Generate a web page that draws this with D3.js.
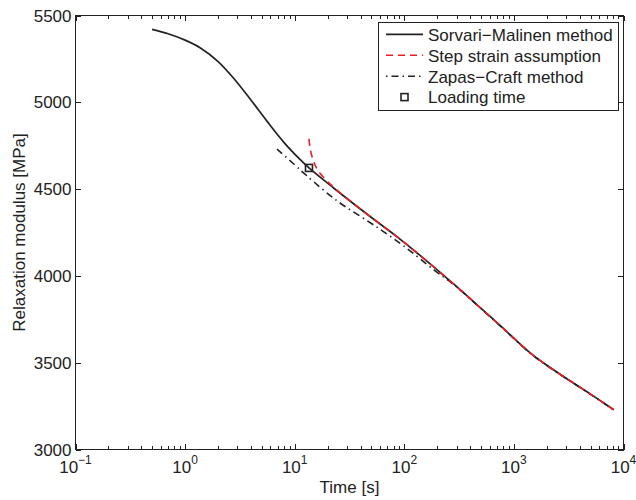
<!DOCTYPE html>
<html>
<head>
<meta charset="utf-8">
<script src="https://cdn.jsdelivr.net/npm/d3@7"></script>
<style>
  body { margin: 0; background: #fff; }
  svg { display: block; font-family: "Liberation Sans", Arial, sans-serif; }
  .tick-label, .axis-title, .legend-text { fill: #222; font-size: 17px; }
</style>
</head>
<body>
<div id="chart"></div>
<script>
// Sorvari-Malinen method (solid)
const smTime = [0.5, 0.7, 1.0, 1.38, 2.0, 2.76, 4.0, 5.6, 8.0, 11.3, 13.5, 22.8, 45.8, 86, 140, 283, 495, 755, 1416, 2000, 2850, 5000, 8150];
const smModulus = [5420, 5395, 5358, 5313, 5235, 5140, 5012, 4890, 4768, 4668, 4622, 4505, 4355, 4225, 4117, 3952, 3816, 3712, 3555, 3485, 3419, 3319, 3229];

// Step strain assumption (red dashed)
const stepTime = [13.5, 13.9, 14.9, 16.3, 21.2, 26.2, 39.8, 86, 140, 283, 495, 755, 1416, 2000, 2850, 5000, 8150];
const stepModulus = [4790, 4726, 4659, 4607, 4527, 4476, 4385, 4225, 4117, 3952, 3816, 3712, 3555, 3485, 3419, 3319, 3229];

// Zapas-Craft method (dash-dot)
const zcTime = [6.9, 10, 13, 24.4, 45.8, 65, 99, 186, 283, 495, 755, 1416, 2000, 2850, 5000, 8150];
const zcModulus = [4730, 4640, 4575, 4432, 4318, 4254, 4172, 4035, 3950, 3815, 3711, 3554, 3484, 3418, 3318, 3228];

// loading time marker
const loadTime = [13.5];
const loadModulus = [4622];

const yTicks = [3000, 3500, 4000, 4500, 5000, 5500];
const xTickExponents = [-1, 0, 1, 2, 3, 4];
const legendLabels = ['Sorvari\u2212Malinen method', 'Step strain assumption', 'Zapas\u2212Craft method', 'Loading time'];

const width = 636;
const height = 500;
const plot = { left: 75.5, right: 623.5, top: 15.5, bottom: 449.5 };
const ink = '#222';
const red = '#ee1c24';

const svg = d3.select('#chart').append('svg')
  .attr('width', width)
  .attr('height', height);

const x = d3.scaleLog().domain([0.1, 10000]).range([plot.left, plot.right]);
const y = d3.scaleLinear().domain([3000, 5500]).range([plot.bottom, plot.top]);

// minor ticks for log axis
const minorTicks = [];
xTickExponents.slice(0, -1).forEach(e => {
  for (let m = 2; m <= 9; m++) minorTicks.push(m * Math.pow(10, e));
});
const majorTicks = xTickExponents.map(e => Math.pow(10, e));

const ticks = svg.append('g').attr('stroke', ink).attr('stroke-width', 1).attr('shape-rendering', 'crispEdges');
// bottom & top x ticks (inward)
[[plot.bottom, -1], [plot.top, 1]].forEach(([yy, dir]) => {
  ticks.selectAll(null).data(majorTicks).enter().append('line')
    .attr('x1', d => Math.round(x(d)) + 0.5).attr('x2', d => Math.round(x(d)) + 0.5)
    .attr('y1', yy).attr('y2', yy + dir * 5.5);
  ticks.selectAll(null).data(minorTicks).enter().append('line')
    .attr('x1', d => Math.round(x(d)) + 0.5).attr('x2', d => Math.round(x(d)) + 0.5)
    .attr('y1', yy).attr('y2', yy + dir * 3.5);
});
// left & right y ticks (inward)
[[plot.left, 1], [plot.right, -1]].forEach(([xx, dir]) => {
  ticks.selectAll(null).data(yTicks).enter().append('line')
    .attr('x1', xx).attr('x2', xx + dir * 5.5)
    .attr('y1', d => Math.round(y(d)) + 0.5).attr('y2', d => Math.round(y(d)) + 0.5);
});

// box
svg.append('rect')
  .attr('x', plot.left).attr('y', plot.top)
  .attr('width', plot.right - plot.left).attr('height', plot.bottom - plot.top)
  .attr('fill', 'none').attr('stroke', ink).attr('stroke-width', 1)
  .attr('shape-rendering', 'crispEdges');

// y tick labels
svg.append('g').selectAll('text').data(yTicks).enter().append('text')
  .attr('class', 'tick-label')
  .attr('x', plot.left - 4)
  .attr('y', d => y(d) + 6)
  .attr('text-anchor', 'end')
  .text(d => d);

// x tick labels 10^e
const xLabels = svg.append('g').selectAll('text').data(xTickExponents).enter().append('text')
  .attr('class', 'tick-label')
  .attr('x', d => x(Math.pow(10, d)))
  .attr('y', 473)
  .attr('text-anchor', 'middle');
xLabels.append('tspan').text('10');
xLabels.append('tspan')
  .attr('dy', -9)
  .attr('font-size', '12px')
  .text(d => (d < 0 ? '\u2212' : '') + Math.abs(d));

// axis titles
svg.append('text')
  .attr('class', 'axis-title')
  .attr('x', (plot.left + plot.right) / 2)
  .attr('y', 493)
  .attr('text-anchor', 'middle')
  .text('Time [s]');

svg.append('text')
  .attr('class', 'axis-title')
  .attr('transform', `translate(25, ${(plot.top + plot.bottom) / 2}) rotate(-90)`)
  .attr('text-anchor', 'middle')
  .text('Relaxation modulus [MPa]');

// curves
const line = d3.line()
  .x(d => x(d[0]))
  .y(d => y(d[1]))
  .curve(d3.curveCatmullRom.alpha(0.5));

const zip = (a, b) => a.map((v, i) => [v, b[i]]);

const curves = svg.append('g').attr('fill', 'none');

curves.append('path')
  .datum(zip(zcTime, zcModulus))
  .attr('d', line)
  .attr('stroke', ink)
  .attr('stroke-width', 1.6)
  .attr('stroke-dasharray', '7,4,1.5,4');

curves.append('path')
  .datum(zip(smTime, smModulus))
  .attr('d', line)
  .attr('stroke', ink)
  .attr('stroke-width', 1.7);

curves.append('path')
  .datum(zip(stepTime, stepModulus))
  .attr('d', line)
  .attr('stroke', red)
  .attr('stroke-width', 1.6)
  .attr('stroke-dasharray', '7,5');

svg.append('g').selectAll('rect').data(zip(loadTime, loadModulus)).enter().append('rect')
  .attr('x', d => x(d[0]) - 3.5)
  .attr('y', d => y(d[1]) - 3.5)
  .attr('width', 7).attr('height', 7)
  .attr('fill', 'none')
  .attr('stroke', ink)
  .attr('stroke-width', 1.6);

// legend
const legend = svg.append('g');
legend.append('rect')
  .attr('x', 378.5).attr('y', 22.5)
  .attr('width', 240).attr('height', 87.5)
  .attr('fill', '#fff')
  .attr('stroke', ink)
  .attr('stroke-width', 1)
  .attr('shape-rendering', 'crispEdges');

const rowStep = 20.9;
const legendStyles = [
  { stroke: ink, dash: null },
  { stroke: red, dash: '7,5' },
  { stroke: ink, dash: '1.5,4,7,4' },
  { marker: true },
];

legendLabels.forEach((label, i) => {
  const base = 40.7 + i * rowStep;
  const mid = base - 6.3;
  const st = legendStyles[i];
  if (st.marker) {
    legend.append('rect')
      .attr('x', 404.5 - 3.5).attr('y', mid - 3.5)
      .attr('width', 7).attr('height', 7)
      .attr('fill', 'none').attr('stroke', ink).attr('stroke-width', 1.6);
  } else {
    legend.append('line')
      .attr('x1', 386).attr('x2', 423)
      .attr('y1', mid).attr('y2', mid)
      .attr('stroke', st.stroke)
      .attr('stroke-width', 1.6)
      .attr('stroke-dasharray', st.dash);
  }
  legend.append('text')
    .attr('class', 'legend-text')
    .attr('x', 428)
    .attr('y', base)
    .text(label);
});
</script>
</body>
</html>
